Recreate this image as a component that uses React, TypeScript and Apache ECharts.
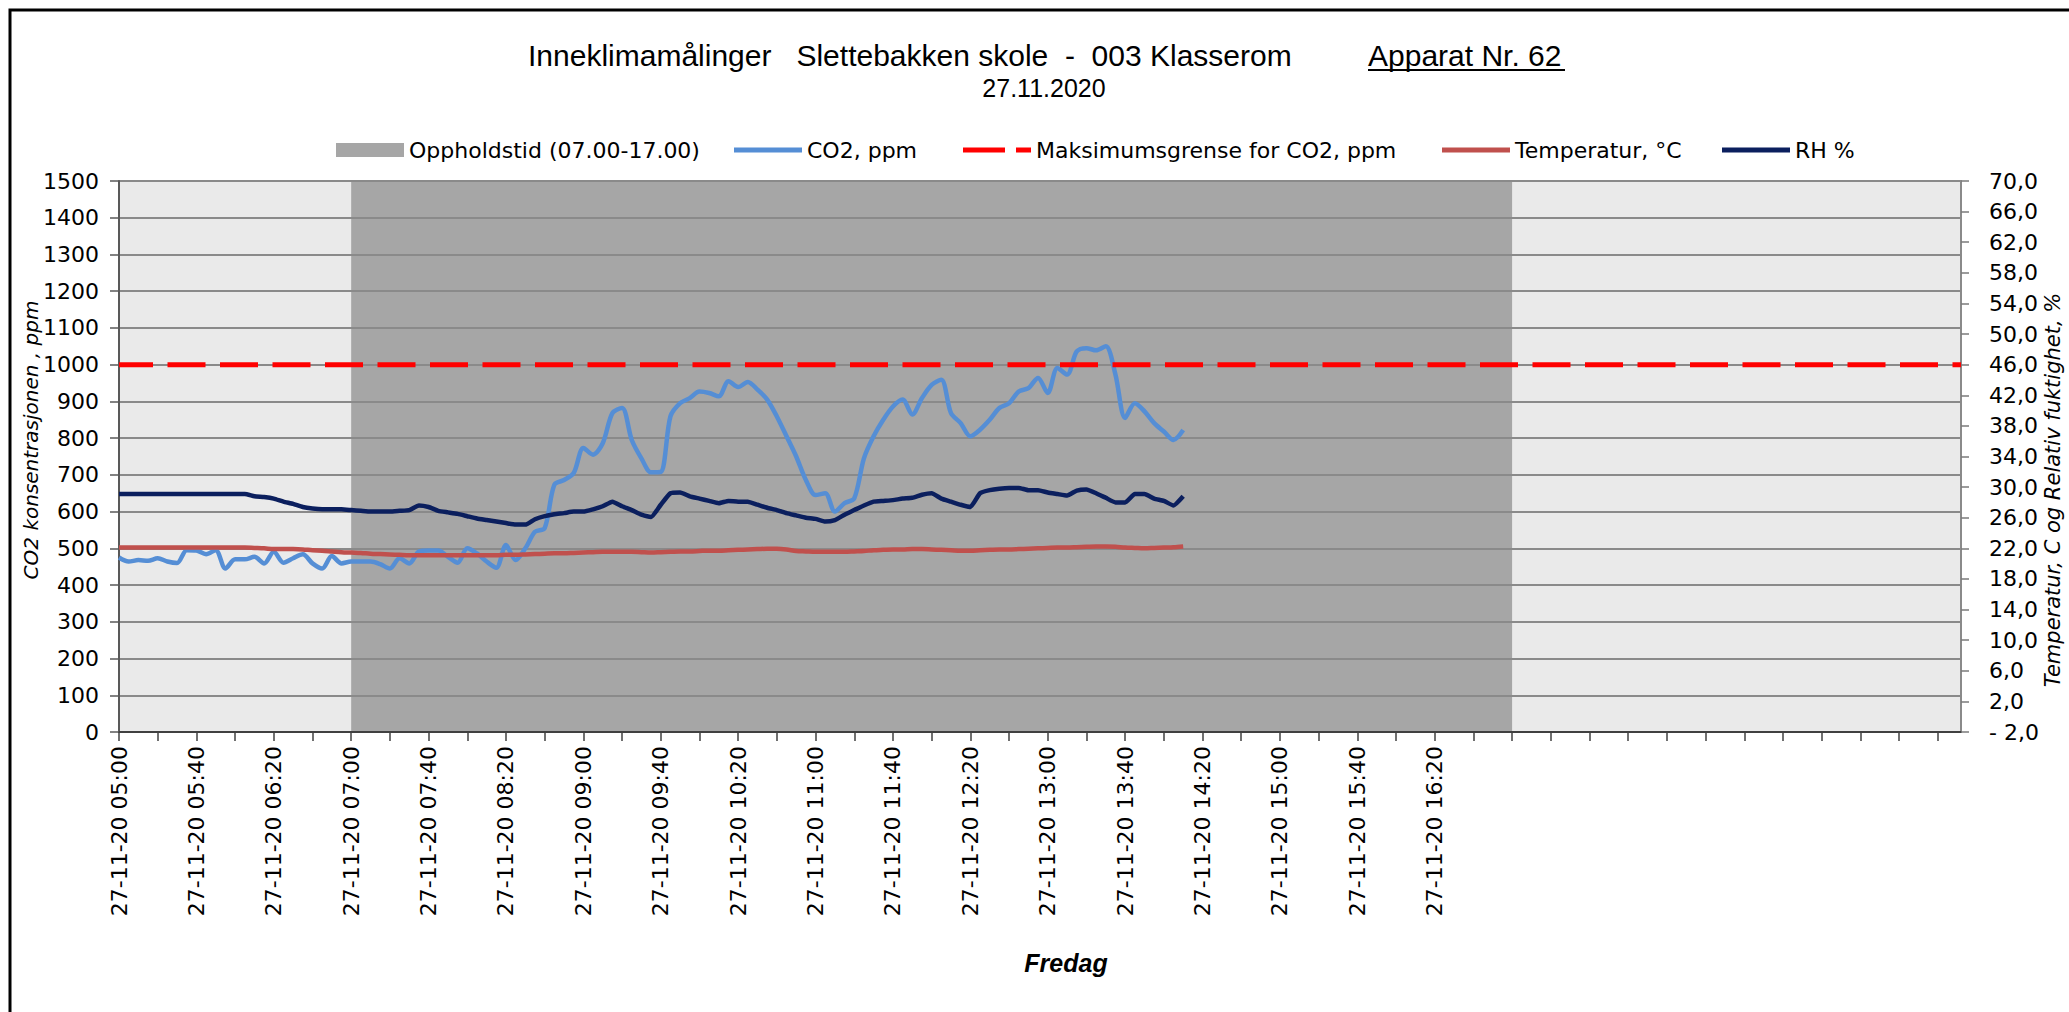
import React, { useEffect, useRef } from "react";
import * as echarts from "echarts";

// ---- time axis (minutes since midnight) ----
const dateLabel = "27-11-20";
const startMinute = 300; // 05:00, first sample
const stepMinutes = 5;
const axisEndMinute = 1252;
const lastLabelMinute = 980; // 16:20
const occupancyStart = 420; // 07:00
const occupancyEnd = 1020; // 17:00
const co2Limit = 1000;

// ---- series values, one every 5 minutes from 05:00 ----
const co2Ppm = [
  475, 464, 468, 466, 473, 464, 460, 495, 494, 484,
  495, 445, 470, 470, 477, 459, 491, 461, 473, 484,
  459, 445, 479, 459, 464, 464, 464, 457, 445, 473,
  459, 491, 494, 494, 477, 461, 500, 486, 464, 447,
  509, 468, 500, 545, 555, 673, 686, 705, 773, 755,
  786, 868, 882, 795, 745, 707, 708, 859, 895, 909,
  927, 923, 914, 955, 939, 953, 932, 905, 859, 805,
  750, 686, 645, 650, 600, 623, 636, 745, 805, 850,
  886, 905, 864, 909, 945, 959, 868, 841, 805, 823,
  850, 882, 895, 927, 936, 964, 923, 991, 973, 1036,
  1045, 1039, 1050, 973, 855, 895, 873, 841, 818, 795,
  822,
];

const temperatureC = [
  22.1, 22.1, 22.1, 22.1, 22.1, 22.1, 22.1, 22.1, 22.1, 22.1,
  22.1, 22.1, 22.1, 22.1, 22.05, 22.0, 21.9, 21.9, 21.9, 21.85,
  21.75, 21.7, 21.6, 21.5, 21.45, 21.4, 21.3, 21.25, 21.2, 21.15,
  21.1, 21.1, 21.1, 21.1, 21.1, 21.1, 21.1, 21.1, 21.1, 21.1,
  21.15, 21.15, 21.2, 21.25, 21.3, 21.35, 21.35, 21.4, 21.45, 21.5,
  21.55, 21.55, 21.55, 21.55, 21.5, 21.45, 21.5, 21.55, 21.6, 21.6,
  21.65, 21.7, 21.7, 21.75, 21.8, 21.85, 21.9, 21.95, 21.95, 21.85,
  21.65, 21.6, 21.55, 21.55, 21.55, 21.55, 21.6, 21.65, 21.75, 21.8,
  21.85, 21.85, 21.9, 21.9, 21.85, 21.8, 21.75, 21.7, 21.7, 21.75,
  21.8, 21.85, 21.85, 21.9, 21.95, 22.0, 22.05, 22.1, 22.1, 22.15,
  22.2, 22.25, 22.25, 22.2, 22.1, 22.05, 22.0, 22.05, 22.1, 22.15,
  22.25,
];

const relativeHumidity = [
  29.1, 29.1, 29.1, 29.1, 29.1, 29.1, 29.1, 29.1, 29.1, 29.1,
  29.1, 29.1, 29.1, 29.1, 28.8, 28.7, 28.5, 28.1, 27.8, 27.4,
  27.2, 27.1, 27.1, 27.1, 27.0, 26.9, 26.8, 26.8, 26.8, 26.9,
  27.0, 27.6, 27.4, 26.9, 26.7, 26.5, 26.2, 25.9, 25.7, 25.5,
  25.3, 25.1, 25.1, 25.8, 26.2, 26.45, 26.6, 26.8, 26.8, 27.1,
  27.5, 28.1, 27.5, 27.0, 26.4, 26.1, 27.7, 29.2, 29.3, 28.8,
  28.5, 28.2, 27.9, 28.2, 28.1, 28.1, 27.7, 27.3, 27.0, 26.6,
  26.3, 26.0, 25.85, 25.5, 25.7, 26.4, 27.0, 27.6, 28.1, 28.2,
  28.3, 28.5, 28.6, 29.0, 29.2, 28.5, 28.1, 27.7, 27.4, 29.2,
  29.6, 29.8, 29.9, 29.9, 29.6, 29.6, 29.3, 29.1, 28.9, 29.55,
  29.7, 29.2, 28.6, 28.0, 28.0, 29.1, 29.1, 28.5, 28.2, 27.6,
  28.8,
];

// ---- axis ranges ----
const co2AxisMin = 0;
const co2AxisMax = 1500;
const co2AxisStep = 100;
const rightAxisMin = -2;
const rightAxisMax = 70;
const rightAxisStep = 4;

// ---- texts ----
const titleMain = "Inneklimamålinger   Slettebakken skole  -  003 Klasserom";
const titleDevice = "Apparat Nr. 62";
const subtitle = "27.11.2020";
const leftAxisName = "CO2 konsentrasjonen , ppm";
const rightAxisName = "Temperatur, C og Relativ fuktighet, %";
const xAxisName = "Fredag";
const nameOccupancy = "Oppholdstid (07.00-17.00)";
const nameCo2 = "CO2, ppm";
const nameLimit = "Maksimumsgrense for CO2, ppm";
const nameTemp = "Temperatur, °C";
const nameRh = "RH %";

const pad2 = (n: number) => (n < 10 ? "0" + n : "" + n);

function timePairs(values: number[]) {
  return values.map((v, i) => [startMinute + i * stepMinutes, v]);
}

export default function App() {
  const ref = useRef<HTMLDivElement>(null);

  useEffect(() => {
    document.body.style.margin = "0";
    if (!ref.current) return;
    const chart = echarts.init(ref.current, undefined, { renderer: "svg" });

    const labelFont = "DejaVu Sans";
    const solidIcon = "path://M0,0H68V5H0Z";
    const dashIcon = "path://M0,0H42V5H0ZM53,0H68V5H53Z";
    const legendBase = {
      top: 139,
      padding: 0,
      itemWidth: 68,
      itemHeight: 14,
      itemGap: 0,
      selectedMode: false,
      textStyle: { fontFamily: labelFont, fontSize: 22, color: "#000" },
    };

    const option: any = {
      animation: false,
      backgroundColor: "#ffffff",
      grid: {
        left: 119,
        right: 108,
        top: 181,
        bottom: 280,
        show: true,
        backgroundColor: "#EAEAEA",
        borderWidth: 0,
        containLabel: false,
        outerBoundsMode: "none",
      },
      legend: [
        { ...legendBase, left: 336, data: [{ name: nameOccupancy, icon: "rect", itemStyle: { color: "#A6A6A6", borderWidth: 0 } }] },
        { ...legendBase, left: 734, data: [{ name: nameCo2, icon: solidIcon, itemStyle: { color: "#558ED5", borderWidth: 0 } }] },
        { ...legendBase, left: 963, data: [{ name: nameLimit, icon: dashIcon, itemStyle: { color: "#FF0000", borderWidth: 0 } }] },
        { ...legendBase, left: 1442, data: [{ name: nameTemp, icon: solidIcon, itemStyle: { color: "#C0504D", borderWidth: 0 } }] },
        { ...legendBase, left: 1722, data: [{ name: nameRh, icon: solidIcon, itemStyle: { color: "#0B1F5E", borderWidth: 0 } }] },
      ],
      xAxis: {
        type: "value",
        min: startMinute,
        max: axisEndMinute,
        interval: 20,
        z: 2,
        axisLine: { show: true, onZero: false, lineStyle: { color: "#404040", width: 2 } },
        axisTick: { show: true, length: 9, lineStyle: { color: "#404040", width: 1.5 } },
        splitLine: { show: false },
        axisLabel: {
          rotate: 90,
          margin: 14,
          fontFamily: labelFont,
          fontSize: 22,
          color: "#000",
          showMaxLabel: false,
          formatter: (v: number) => {
            const m = Math.round(v);
            if ((m - startMinute) % 40 !== 0 || m > lastLabelMinute) return "";
            return dateLabel + " " + pad2(Math.floor(m / 60)) + ":" + pad2(m % 60);
          },
        },
      },
      yAxis: [
        {
          type: "value",
          position: "left",
          min: co2AxisMin,
          max: co2AxisMax,
          interval: co2AxisStep,
          z: 2,
          axisLine: { show: true, lineStyle: { color: "#595959", width: 2 } },
          axisTick: { show: true, length: 9, lineStyle: { color: "#595959", width: 1.5 } },
          splitLine: { show: true, lineStyle: { color: "#8A8A8A", width: 2 } },
          axisLabel: {
            margin: 20,
            fontFamily: labelFont,
            fontSize: 22,
            color: "#000",
            formatter: (v: number) => String(Math.round(v)),
          },
        },
        {
          type: "value",
          position: "right",
          min: rightAxisMin,
          max: rightAxisMax,
          interval: rightAxisStep,
          z: 2,
          axisLine: { show: true, lineStyle: { color: "#8A8A8A", width: 2 } },
          axisTick: { show: true, length: 8, lineStyle: { color: "#7A7A7A", width: 1.5 } },
          splitLine: { show: false },
          axisLabel: {
            margin: 28,
            fontFamily: labelFont,
            fontSize: 22,
            color: "#000",
            formatter: (v: number) => {
              const s = Math.abs(v).toFixed(1).replace(".", ",");
              return v < 0 ? "- " + s : s;
            },
          },
        },
      ],
      series: [
        {
          name: nameOccupancy,
          type: "line",
          data: [],
          color: "#A6A6A6",
          silent: true,
          markArea: {
            silent: true,
            label: { show: false },
            itemStyle: { color: "#A6A6A6", opacity: 1 },
            data: [[{ xAxis: occupancyStart }, { xAxis: occupancyEnd }]],
          },
        },
        {
          name: nameCo2,
          type: "line",
          yAxisIndex: 0,
          data: timePairs(co2Ppm),
          symbol: "none",
          smooth: 0.3,
          color: "#558ED5",
          lineStyle: { color: "#558ED5", width: 4.5 },
          z: 5,
        },
        {
          name: nameLimit,
          type: "line",
          yAxisIndex: 0,
          data: [
            [startMinute, co2Limit],
            [axisEndMinute, co2Limit],
          ],
          symbol: "none",
          color: "#FF0000",
          lineStyle: { color: "#FF0000", width: 5, type: [38, 14.5], dashOffset: 4 },
          z: 5,
        },
        {
          name: nameTemp,
          type: "line",
          yAxisIndex: 1,
          data: timePairs(temperatureC),
          symbol: "none",
          smooth: 0.3,
          color: "#C0504D",
          lineStyle: { color: "#C0504D", width: 4.5 },
          z: 5,
        },
        {
          name: nameRh,
          type: "line",
          yAxisIndex: 1,
          data: timePairs(relativeHumidity),
          symbol: "none",
          smooth: 0.15,
          color: "#0B1F5E",
          lineStyle: { color: "#0B1F5E", width: 4.5 },
          z: 5,
        },
      ],
      graphic: [
        {
          type: "rect",
          silent: true,
          z: 100,
          shape: { x: 10, y: 10, width: 2200, height: 1200 },
          style: { fill: "none", stroke: "#000", lineWidth: 3 },
        },
        {
          type: "text",
          x: 528,
          y: 55,
          style: {
            text: titleMain,
            fontFamily: "Liberation Sans",
            fontSize: 30,
            fill: "#000",
            align: "left",
            textAlign: "left",
            verticalAlign: "middle",
            textVerticalAlign: "middle",
          },
        },
        {
          type: "text",
          x: 1368,
          y: 55,
          style: {
            text: titleDevice,
            fontFamily: "Liberation Sans",
            fontSize: 30,
            fill: "#000",
            align: "left",
            textAlign: "left",
            verticalAlign: "middle",
            textVerticalAlign: "middle",
          },
        },
        {
          type: "line",
          silent: true,
          shape: { x1: 1368, y1: 70, x2: 1565, y2: 70 },
          style: { stroke: "#000", lineWidth: 2 },
        },
        {
          type: "text",
          x: 1044,
          y: 88,
          style: {
            text: subtitle,
            fontFamily: "Liberation Sans",
            fontSize: 25,
            fill: "#000",
            align: "center",
            textAlign: "center",
            verticalAlign: "middle",
            textVerticalAlign: "middle",
          },
        },
        {
          type: "text",
          x: 31,
          y: 440,
          rotation: Math.PI / 2,
          style: {
            text: leftAxisName,
            fontFamily: labelFont,
            fontStyle: "italic",
            fontSize: 20,
            fill: "#000",
            align: "center",
            textAlign: "center",
            verticalAlign: "middle",
            textVerticalAlign: "middle",
          },
        },
        {
          type: "text",
          x: 2053,
          y: 490,
          rotation: Math.PI / 2,
          style: {
            text: rightAxisName,
            fontFamily: labelFont,
            fontStyle: "italic",
            fontSize: 21,
            fill: "#000",
            align: "center",
            textAlign: "center",
            verticalAlign: "middle",
            textVerticalAlign: "middle",
          },
        },
        {
          type: "text",
          x: 1066,
          y: 963,
          style: {
            text: xAxisName,
            fontFamily: "Liberation Sans",
            fontStyle: "italic",
            fontWeight: "bold",
            fontSize: 25,
            fill: "#000",
            align: "center",
            textAlign: "center",
            verticalAlign: "middle",
            textVerticalAlign: "middle",
          },
        },
      ],
    };

    chart.setOption(option);
    return () => {
      chart.dispose();
    };
  }, []);

  return (
    <div
      ref={ref}
      style={{ position: "fixed", left: 0, top: 0, width: "2069px", height: "1012px" }}
    />
  );
}
